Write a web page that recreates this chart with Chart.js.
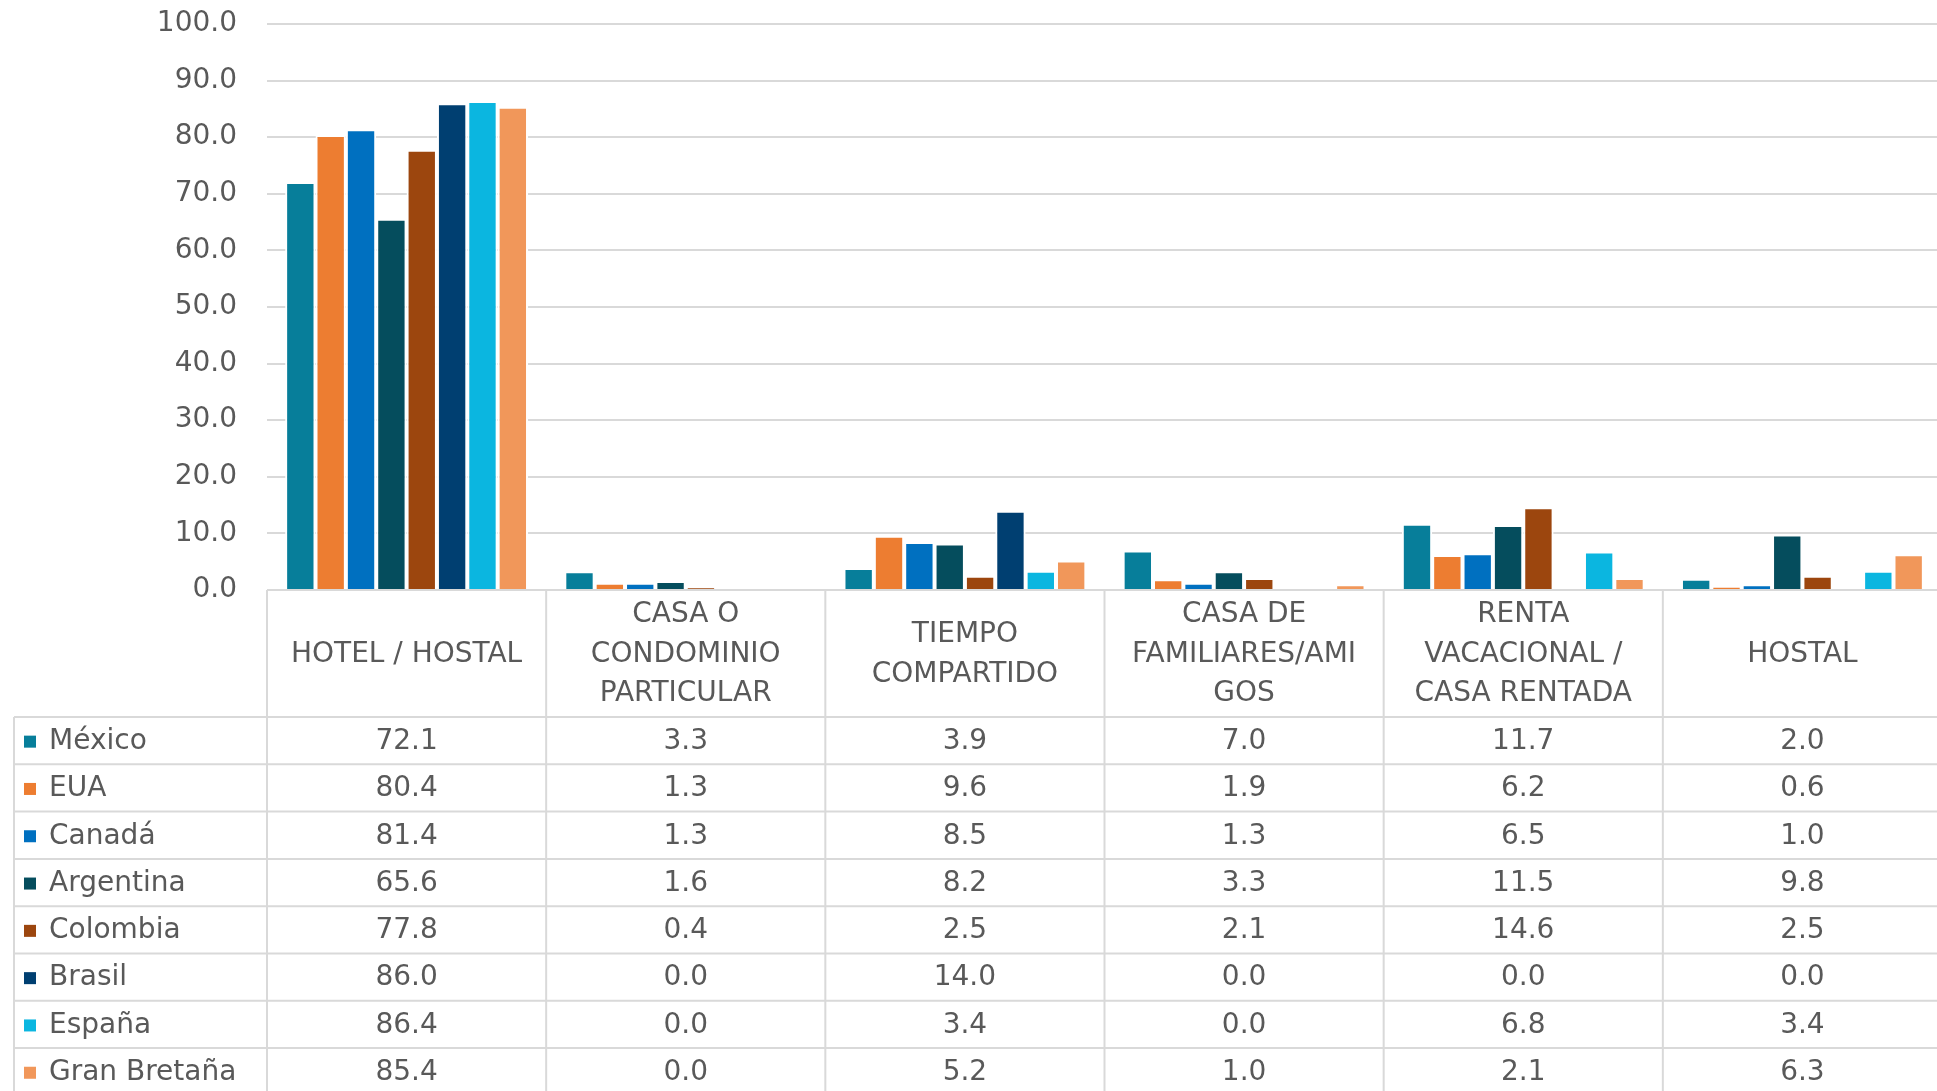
<!DOCTYPE html>
<html>
<head>
<meta charset="utf-8">
<script src="https://cdn.jsdelivr.net/npm/chart.js@4"></script>
<style>
  html, body { margin: 0; padding: 0; background: #fff; overflow: hidden; }
  #wrap { width: 1944px; height: 1096px; }
</style>
</head>
<body>
<div id="wrap"><canvas id="alojamiento"></canvas></div>
<script>
// categorias (as they wrap in the table header)
const categories = [
  ["HOTEL / HOSTAL"],
  ["CASA O", "CONDOMINIO", "PARTICULAR"],
  ["TIEMPO", "COMPARTIDO"],
  ["CASA DE", "FAMILIARES/AMI", "GOS"],
  ["RENTA", "VACACIONAL /", "CASA RENTADA"],
  ["HOSTAL"],
];

const countries = ["México", "EUA", "Canadá", "Argentina", "Colombia", "Brasil", "España", "Gran Bretaña"];
const colors = ["#077E9A", "#ED7D31", "#0070C0", "#054D5D", "#9C460E", "#003F71", "#0BB6E0", "#F1975A"];

const mexico      = [72.1, 3.3, 3.9, 7.0, 11.7, 2.0];
const eua         = [80.4, 1.3, 9.6, 1.9, 6.2, 0.6];
const canada      = [81.4, 1.3, 8.5, 1.3, 6.5, 1.0];
const argentina   = [65.6, 1.6, 8.2, 3.3, 11.5, 9.8];
const colombia    = [77.8, 0.4, 2.5, 2.1, 14.6, 2.5];
const brasil      = [86.0, 0.0, 14.0, 0.0, 0.0, 0.0];
const espana      = [86.4, 0.0, 3.4, 0.0, 6.8, 3.4];
const granBretana = [85.4, 0.0, 5.2, 1.0, 2.1, 6.3];

const series = [mexico, eua, canada, argentina, colombia, brasil, espana, granBretana];

const FONT = "'DejaVu Sans', sans-serif";
const SIZE = 28;
const TEXT = "#595959";
const LINE = "#D9D9D9";

// Data table under the plot, laid out on the x scale's columns
const dataTable = {
  id: "dataTable",
  afterDraw(chart) {
    const { ctx, chartArea: area, scales: { x } } = chart;
    const colW = (x.right - x.left) / categories.length;
    const headTop = area.bottom;
    const headBottom = 717;
    const rowH = 47.3;
    const legendLeft = 14;
    const bottom = chart.height;

    ctx.save();
    ctx.strokeStyle = LINE;
    ctx.lineWidth = 2;

    // horizontal lines
    ctx.beginPath();
    ctx.moveTo(x.left, headTop);
    ctx.lineTo(chart.width, headTop);
    for (let r = 0; r <= countries.length; r++) {
      const y = headBottom + r * rowH;
      ctx.moveTo(legendLeft, y);
      ctx.lineTo(chart.width, y);
    }
    // vertical lines
    for (let i = 0; i <= categories.length; i++) {
      const xx = x.left + i * colW;
      ctx.moveTo(xx, headTop);
      ctx.lineTo(xx, bottom);
    }
    ctx.moveTo(legendLeft, headBottom);
    ctx.lineTo(legendLeft, bottom);
    ctx.stroke();

    ctx.fillStyle = TEXT;
    ctx.font = SIZE + "px " + FONT;
    ctx.textAlign = "center";
    ctx.textBaseline = "middle";

    // header
    const lineH = 39.5;
    const headMid = (headTop + headBottom) / 2 + 1;
    categories.forEach((lines, i) => {
      const cx = x.getPixelForValue(i);
      const y0 = headMid - (lines.length - 1) * lineH / 2;
      lines.forEach((t, k) => ctx.fillText(t, cx, y0 + k * lineH));
    });

    // rows
    countries.forEach((name, r) => {
      const cy = headBottom + r * rowH + rowH / 2 + 1;
      ctx.fillStyle = colors[r];
      ctx.fillRect(24, cy - 6, 12, 12);
      ctx.fillStyle = TEXT;
      ctx.textAlign = "left";
      ctx.fillText(name, 49, cy);
      ctx.textAlign = "center";
      series[r].forEach((v, i) => {
        ctx.fillText(v.toFixed(1), x.getPixelForValue(i), cy);
      });
    });
    ctx.restore();
  },
};

new Chart(document.getElementById("alojamiento").getContext("2d"), {
  type: "bar",
  data: {
    labels: categories.map((c) => c.join(" ")),
    datasets: countries.map((name, i) => ({
      label: name,
      data: series[i],
      backgroundColor: colors[i],
      borderColor: "#FFFFFF",
      borderWidth: 2,
      barPercentage: 1,
      categoryPercentage: 0.87,
    })),
  },
  options: {
    responsive: true,
    maintainAspectRatio: false,
    animation: false,
    layout: { padding: { top: 24, right: 2, bottom: 506, left: 0 } },
    plugins: {
      legend: { display: false },
      tooltip: { enabled: false },
    },
    scales: {
      x: { display: false },
      y: {
        min: 0,
        max: 100,
        ticks: {
          stepSize: 10,
          padding: 0,
          color: TEXT,
          font: { family: FONT, size: SIZE },
          callback: (v) => v.toFixed(1),
        },
        grid: { color: LINE, lineWidth: 2, drawTicks: true, tickLength: 30, tickColor: "rgba(0,0,0,0)" },
        border: { display: false },
        afterFit: (scale) => { scale.width = 267; },
      },
    },
  },
  plugins: [dataTable],
});
</script>
</body>
</html>
